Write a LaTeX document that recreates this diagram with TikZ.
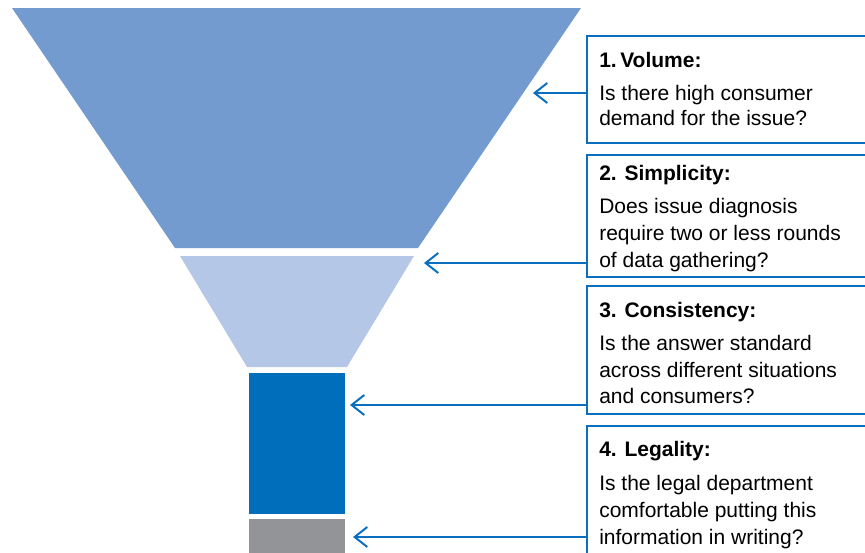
\documentclass[tikz,border=0pt]{standalone}
\usepackage{fontspec}
\setmainfont{Liberation Sans}
\usetikzlibrary{arrows.meta,fit}
\definecolor{funA}{HTML}{739BD0}
\definecolor{funB}{HTML}{B4C7E7}
\definecolor{funC}{HTML}{006EBB}
\definecolor{funD}{HTML}{929497}
\definecolor{lineblue}{HTML}{0A6FBF}
\tikzset{
  qbox/.style={draw=lineblue, line width=1.9pt, inner sep=0pt},
  arr/.style={draw=lineblue, line width=1.5pt, -{Straight Barb[length=9.5pt,width=15pt,line width=1.5pt]}},
  ttl/.style={anchor=base west, inner sep=0pt, font=\fontsize{15.75pt}{19pt}\selectfont\bfseries},
  txt/.style={anchor=base west, inner sep=0pt, font=\fontsize{15.75pt}{19pt}\selectfont},
}
\begin{document}
\begin{tikzpicture}[x=0.75pt,y=-0.75pt]
\useasboundingbox (0,0) rectangle (865,553);
% funnel
\fill[funA] (12,8) -- (581,8) -- (418,248) -- (175,248) -- cycle;
\fill[funB] (180,256) -- (414,256) -- (347,367) -- (247,367) -- cycle;
\fill[funC] (249,373) rectangle (345,514);
\fill[funD] (249,519) rectangle (345,560);
% boxes
\node[qbox, fit={(587,36) (885,143)}] (b1) {};
\node[qbox, fit={(587,155) (885,277)}] (b2) {};
\node[qbox, fit={(587,286) (885,414)}] (b3) {};
\node[qbox, fit={(587,426) (885,580)}] (b4) {};
% arrow tips
\coordinate (t1) at (533,93);
\coordinate (t2) at (424,263);
\coordinate (t3) at (350,405);
\coordinate (t4) at (353,537);
\draw[arr] (b1.west |- t1) -- (t1);
\draw[arr] (b2.west |- t2) -- (t2);
\draw[arr] (b3.west |- t3) -- (t3);
\draw[arr] (b4.west |- t4) -- (t4);
% texts
\node[ttl] (h1) at (599,67) {1.\,Volume:};
\node[txt] (l11) at (599,100) {Is there high consumer};
\node[txt] (l12) at (599,125) {demand for the issue?};
\node[ttl] (h2) at (599,180) {2. Simplicity:};
\node[txt] (l21) at (599,213) {Does issue diagnosis};
\node[txt] (l22) at (599,240) {require two or less rounds};
\node[txt] (l23) at (599,267) {of data gathering?};
\node[ttl] (h3) at (599,317) {3. Consistency:};
\node[txt] (l31) at (599,350) {Is the answer standard};
\node[txt] (l32) at (599,377) {across different situations};
\node[txt] (l33) at (599,403) {and consumers?};
\node[ttl] (h4) at (599,456) {4. Legality:};
\node[txt] (l41) at (599,490) {Is the legal department};
\node[txt] (l42) at (599,517) {comfortable putting this};
\node[txt] (l43) at (599,544) {information in writing?};
\end{tikzpicture}
\end{document}
